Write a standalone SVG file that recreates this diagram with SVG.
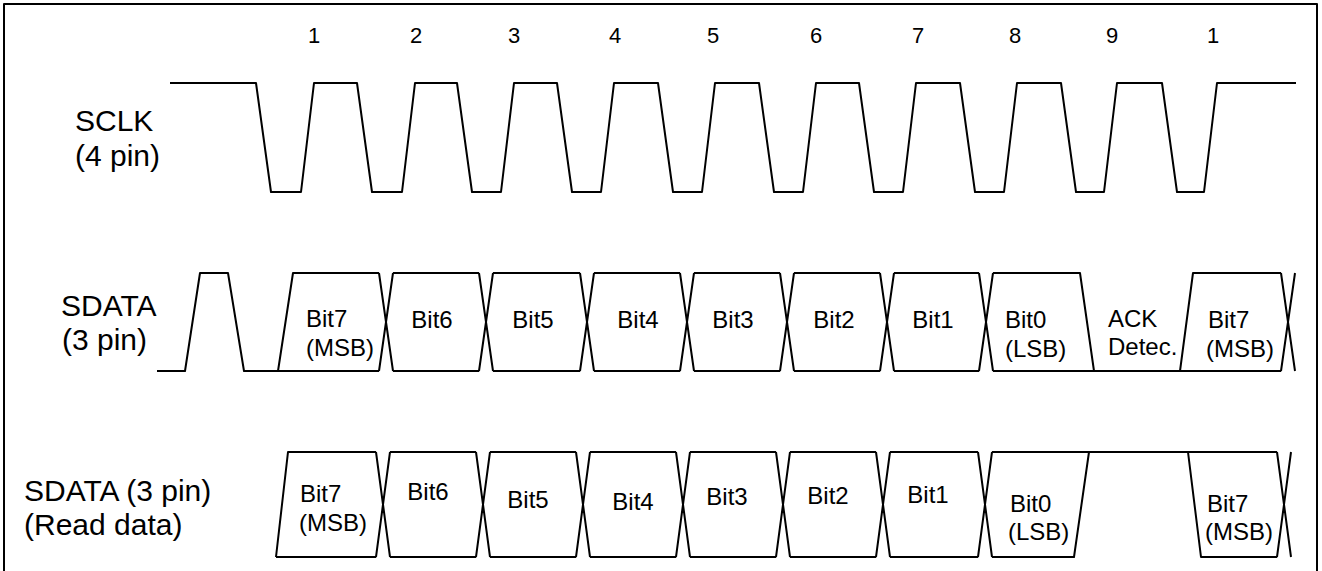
<svg xmlns="http://www.w3.org/2000/svg" width="1322" height="571" viewBox="0 0 1322 571">
<style>
.w{fill:none;stroke:#000;stroke-width:2;stroke-linejoin:round;stroke-linecap:butt}
.lbl{font-family:"Liberation Sans",Arial,sans-serif;font-size:30px;fill:#000}
.num{font-family:"Liberation Sans",Arial,sans-serif;font-size:22px;fill:#000;text-anchor:middle}
.bit{font-family:"Liberation Sans",Arial,sans-serif;font-size:24px;fill:#000}
.bc{text-anchor:middle}
</style>
<rect width="1322" height="571" fill="#fff"/>
<g id="frame">
<path class="w" d="M4,571 V4 H1317 V571"/>
</g>
<g id="clock-numbers">
<text class="num" x="314" y="43">1</text>
<text class="num" x="416" y="43">2</text>
<text class="num" x="514" y="43">3</text>
<text class="num" x="615" y="43">4</text>
<text class="num" x="713" y="43">5</text>
<text class="num" x="816" y="43">6</text>
<text class="num" x="918" y="43">7</text>
<text class="num" x="1015" y="43">8</text>
<text class="num" x="1112" y="43">9</text>
<text class="num" x="1213" y="43">1</text>
</g>
<g id="sclk">
<text class="lbl" x="75" y="131">SCLK</text>
<text class="lbl" x="75" y="166">(4 pin)</text>
<path class="w" d="M170,83 H256 L271,192 H301 L314,83 H357 L372,192 H402 L415,83 H457 L472,192 H501 L514,83 H557 L572,192 H601 L614,83 H658 L673,192 H702 L715,83 H759 L774,192 H803 L816,83 H859 L874,192 H903 L916,83 H960 L975,192 H1004 L1017,83 H1061 L1076,192 H1104 L1117,83 H1162 L1177,192 H1204 L1217,83 H1296"/>
</g>
<g id="sdata-write">
<text class="lbl" x="61" y="316">SDATA</text>
<text class="lbl" x="62" y="350">(3 pin)</text>
<path class="w" d="M157,371 H185 L200,273 H228 L244,371 H379 M278,371 L293,273 H379"/>
<path class="w" d="M379,273 L393,371 M393,273 L379,371 M393,273 H479 M393,371 H479
M479,273 L493,371 M493,273 L479,371 M493,273 H580 M493,371 H580
M580,273 L594,371 M594,273 L580,371 M594,273 H680 M594,371 H680
M680,273 L694,371 M694,273 L680,371 M694,273 H780 M694,371 H780
M780,273 L794,371 M794,273 L780,371 M794,273 H880 M794,371 H880
M880,273 L894,371 M894,273 L880,371 M894,273 H979 M894,371 H979
M979,273 L993,371 M993,273 L979,371 M993,273 H1080 L1094,371 M993,371 H1281
M1180,371 L1193,273 H1281 M1281,273 L1295,371 M1295,273 L1281,371"/>
<text class="bit" x="306" y="327">Bit7</text>
<text class="bit" x="306" y="356">(MSB)</text>
<text class="bit bc" x="432" y="328">Bit6</text>
<text class="bit bc" x="533" y="328">Bit5</text>
<text class="bit bc" x="638" y="328">Bit4</text>
<text class="bit bc" x="733" y="328">Bit3</text>
<text class="bit bc" x="834" y="328">Bit2</text>
<text class="bit bc" x="933" y="328">Bit1</text>
<text class="bit" x="1005" y="328">Bit0</text>
<text class="bit" x="1005" y="357">(LSB)</text>
<text class="bit" x="1108" y="327">ACK</text>
<text class="bit" x="1108" y="355">Detec.</text>
<text class="bit" x="1208" y="328">Bit7</text>
<text class="bit" x="1206" y="357">(MSB)</text>
</g>
<g id="sdata-read">
<text class="lbl" x="24" y="501">SDATA (3 pin)</text>
<text class="lbl" x="24" y="535">(Read data)</text>
<path class="w" d="M276,557 L288,452 H376 M276,557 H376
M376,452 L390,557 M390,452 L376,557 M390,452 H476 M390,557 H476
M476,452 L490,557 M490,452 L476,557 M490,452 H576 M490,557 H576
M576,452 L590,557 M590,452 L576,557 M590,452 H676 M590,557 H676
M676,452 L690,557 M690,452 L676,557 M690,452 H776 M690,557 H776
M776,452 L790,557 M790,452 L776,557 M790,452 H876 M790,557 H876
M876,452 L890,557 M890,452 L876,557 M890,452 H978 M890,557 H978
M978,452 L992,557 M992,452 L978,557 M992,452 H1277 M992,557 H1074 L1089,452
M1188,452 L1201,557 H1277 M1277,452 L1291,557 M1291,452 L1277,557"/>
<text class="bit" x="300" y="502">Bit7</text>
<text class="bit" x="299" y="531">(MSB)</text>
<text class="bit bc" x="428" y="500">Bit6</text>
<text class="bit bc" x="528" y="508">Bit5</text>
<text class="bit bc" x="633" y="510">Bit4</text>
<text class="bit bc" x="727" y="505">Bit3</text>
<text class="bit bc" x="828" y="504">Bit2</text>
<text class="bit bc" x="928" y="503">Bit1</text>
<text class="bit" x="1010" y="512">Bit0</text>
<text class="bit" x="1008" y="540">(LSB)</text>
<text class="bit" x="1207" y="512">Bit7</text>
<text class="bit" x="1205" y="540">(MSB)</text>
</g>
</svg>
